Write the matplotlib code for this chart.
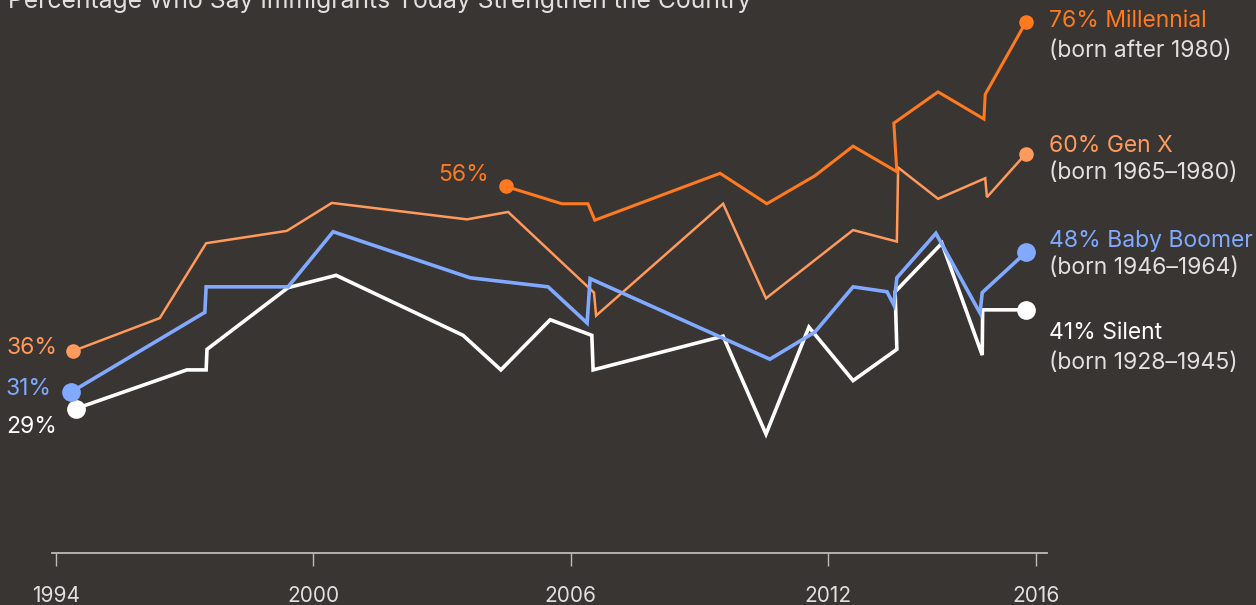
#Libraries
import matplotlib
matplotlib.use("Agg")
import matplotlib.pyplot as plt

#Survey data (year, percent)
genx_years = [1994.40, 1996.42, 1997.50, 1999.38, 2000.43, 2003.58, 2004.54, 2006.54, 2006.59,
              2009.55, 2010.55, 2012.58, 2013.60, 2013.63, 2014.56, 2015.66, 2015.70, 2016.61]
genx_vals = [36, 40.0, 49.1, 50.6, 54.0, 52.0, 52.9, 43.1, 40.3,
             53.9, 42.4, 50.7, 49.3, 58.3, 54.5, 57.0, 54.7, 60]

millennial_years = [2004.49, 2005.79, 2006.40, 2006.56, 2009.48, 2010.57, 2011.69,
                    2012.58, 2013.60, 2013.53, 2014.56, 2015.63, 2015.66, 2016.61]
millennial_vals = [56, 53.9, 53.9, 51.9, 57.6, 53.9, 57.3,
                   60.9, 57.8, 63.7, 67.5, 64.2, 67.2, 76]

boomer_years = [1994.35, 1997.47, 1997.50, 1999.41, 2000.46, 2003.65, 2005.47, 2006.38, 2006.45,
                2010.64, 2011.69, 2012.58, 2013.37, 2013.53, 2013.60, 2014.51, 2015.54, 2015.59, 2016.61]
boomer_vals = [31, 40.7, 43.8, 43.8, 50.5, 44.9, 43.8, 39.4, 44.8,
               35.0, 38.3, 43.8, 43.2, 41.6, 44.9, 50.3, 40.6, 43.1, 48]

silent_years = [1994.47, 1997.05, 1997.50, 1997.52, 1999.41, 2000.53, 2003.49, 2004.37, 2005.52,
                2006.49, 2006.52, 2009.55, 2010.55, 2011.55, 2012.58, 2013.60, 2013.56, 2014.65,
                2015.59, 2015.60, 2016.61]
silent_vals = [29, 33.7, 33.7, 36.2, 43.7, 45.2, 37.9, 33.7, 39.8,
               37.9, 33.7, 37.8, 25.9, 38.9, 32.4, 36.2, 43.2, 49.1,
               35.5, 41, 41]

tick_labels = ["1994", "2000", "2006", "2012", "2016"]
tick_pos = [1994, 2000, 2006, 2012, 2016.85]

title = "Percentage Who Say Immigrants Today Strengthen the Country"

#Colours
bg = "#383533"
c_mill = "#FF7A1F"
c_genx = "#FF9A5C"
c_boom = "#80A9FF"
c_sil = "#FFFFFF"
c_sub = "#E2E0DE"

plt.rcParams['font.family'] = ['Inter', 'DejaVu Sans']

fig = plt.figure(figsize=(12.56, 6.05), dpi=100, facecolor=bg)
ax = fig.add_axes([52/1256, 52/605, 995/1256, 553/605])
ax.set_facecolor(bg)
ax.set_xlim(1993.907, 2017.10)
ax.set_ylim(11.44, 78.67)

#Lines
ax.plot(silent_years, silent_vals, color=c_sil, lw=2.6, zorder=2, clip_on=False, solid_joinstyle='miter')
ax.plot(genx_years, genx_vals, color=c_genx, lw=1.8, zorder=3, clip_on=False, solid_joinstyle='miter')
ax.plot(millennial_years, millennial_vals, color=c_mill, lw=2.2, zorder=4, clip_on=False, solid_joinstyle='miter')
ax.plot(boomer_years, boomer_vals, color=c_boom, lw=2.6, zorder=5, clip_on=False, solid_joinstyle='miter')

#End point dots
def dots(xs, ys, col, size, z):
    ax.plot([xs[0], xs[-1]], [ys[0], ys[-1]], 'o', color=col, ms=size, mec='none', zorder=z, clip_on=False)

dots(silent_years, silent_vals, c_sil, 13.5, 2)
dots(genx_years, genx_vals, c_genx, 10.5, 3)
dots(millennial_years, millennial_vals, c_mill, 10.5, 4)
dots(boomer_years, boomer_vals, c_boom, 13.5, 5)

#Start labels (offsets in points)
fs = 16.5
ax.annotate("36%", (genx_years[0], genx_vals[0]), xytext=(-11.5, 2.2), textcoords='offset points',
            ha='right', va='center', color=c_genx, fontsize=fs)
ax.annotate("31%", (boomer_years[0], boomer_vals[0]), xytext=(-13.7, 2.2), textcoords='offset points',
            ha='right', va='center', color=c_boom, fontsize=fs)
ax.annotate("29%", (silent_years[0], silent_vals[0]), xytext=(-13.7, -13.3), textcoords='offset points',
            ha='right', va='center', color=c_sil, fontsize=fs)
ax.annotate("56%", (millennial_years[0], millennial_vals[0]), xytext=(-12.2, 8.3), textcoords='offset points',
            ha='right', va='center', color=c_mill, fontsize=fs)

#End labels
end_labels = [("76% Millennial", "(born after 1980)", millennial_vals[-1], c_mill, 0.7, -20.9),
              ("60% Gen X", "(born 1965\u20131980)", genx_vals[-1], c_genx, 5.5, -14),
              ("48% Baby Boomer", "(born 1946\u20131964)", boomer_vals[-1], c_boom, 8.1, -11.3),
              ("41% Silent", "(born 1928\u20131945)", silent_vals[-1], c_sil, -17, -38.2)]
for head, sub, v, col, dy1, dy2 in end_labels:
    ax.annotate(head, (millennial_years[-1], v), xytext=(16.5, dy1), textcoords='offset points',
                ha='left', va='center', color=col, fontsize=fs, annotation_clip=False)
    ax.annotate(sub, (millennial_years[-1], v), xytext=(16.5, dy2), textcoords='offset points',
                ha='left', va='center', color=c_sub, fontsize=fs, annotation_clip=False)

#Axis
for s in ['top', 'right', 'left']:
    ax.spines[s].set_visible(False)
ax.spines['bottom'].set_color("#BDBBB9")
ax.spines['bottom'].set_linewidth(1.3)
ax.set_yticks([])
ax.set_xticks(tick_pos)
ax.set_xticklabels(tick_labels)
ax.tick_params(axis='x', colors="#BDBBB9", length=9, width=1, pad=15, labelsize=15, labelcolor=c_sub)

fig.text(8/1256, 1 - 8/605, title, color=c_sub, fontsize=17.8, ha='left', va='baseline')

fig.savefig("out.png", dpi=100, facecolor=bg)
